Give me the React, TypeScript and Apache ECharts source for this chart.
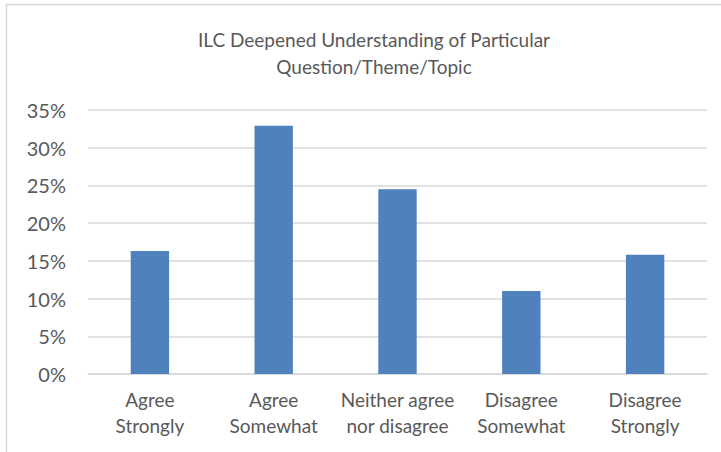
import React, { useEffect, useRef } from "react";
import * as echarts from "echarts";

const categories = [
  "Agree\nStrongly",
  "Agree\nSomewhat",
  "Neither agree\nnor disagree",
  "Disagree\nSomewhat",
  "Disagree\nStrongly",
];
const values = [0.163, 0.329, 0.245, 0.11, 0.158];
const titleText = "ILC Deepened Understanding of Particular\nQuestion/Theme/Topic";

const FONT = "Lato, 'Open Sans', sans-serif";
const TEXT = "#595959";

export default function App() {
  const ref = useRef<HTMLDivElement>(null);
  useEffect(() => {
    if (!ref.current) return;
    const chart = echarts.init(ref.current, null, { renderer: "svg" });
    chart.setOption({
      animation: false,
      backgroundColor: "#ffffff",
      title: {
        text: titleText,
        left: 369,
        textAlign: "center",
        top: 21,
        textStyle: {
          fontFamily: FONT,
          fontSize: 19,
          fontWeight: "normal",
          color: TEXT,
          lineHeight: 27,
        },
      },
      graphic: [
        {
          type: "rect",
          shape: { x: 6.5, y: 4.5, width: 730, height: 460 },
          style: { fill: "none", stroke: "#D9D9D9", lineWidth: 1.5 },
          silent: true,
        },
      ],
      grid: { left: 88, right: 14, top: 110, bottom: 78 },
      xAxis: {
        type: "category",
        data: categories,
        axisLine: { lineStyle: { color: "#D9D9D9", width: 1.5 } },
        axisTick: { show: false },
        axisLabel: {
          fontFamily: FONT,
          fontSize: 19,
          color: TEXT,
          lineHeight: 26,
          margin: 12,
          interval: 0,
        },
      },
      yAxis: {
        type: "value",
        min: 0,
        max: 0.35,
        interval: 0.05,
        axisLine: { show: false },
        axisTick: { show: false },
        splitLine: { lineStyle: { color: "#D9D9D9", width: 1.5 } },
        axisLabel: {
          fontFamily: FONT,
          fontSize: 20,
          color: TEXT,
          margin: 22,
          formatter: (v: number) => Math.round(v * 100) + "%",
        },
      },
      series: [
        {
          type: "bar",
          data: values,
          barWidth: "31%",
          itemStyle: { color: "#4F81BD" },
        },
      ],
    });
    return () => chart.dispose();
  }, []);
  return (
    <div
      ref={ref}
      style={{ position: "absolute", left: 0, top: 0, width: 721, height: 452 }}
    />
  );
}
